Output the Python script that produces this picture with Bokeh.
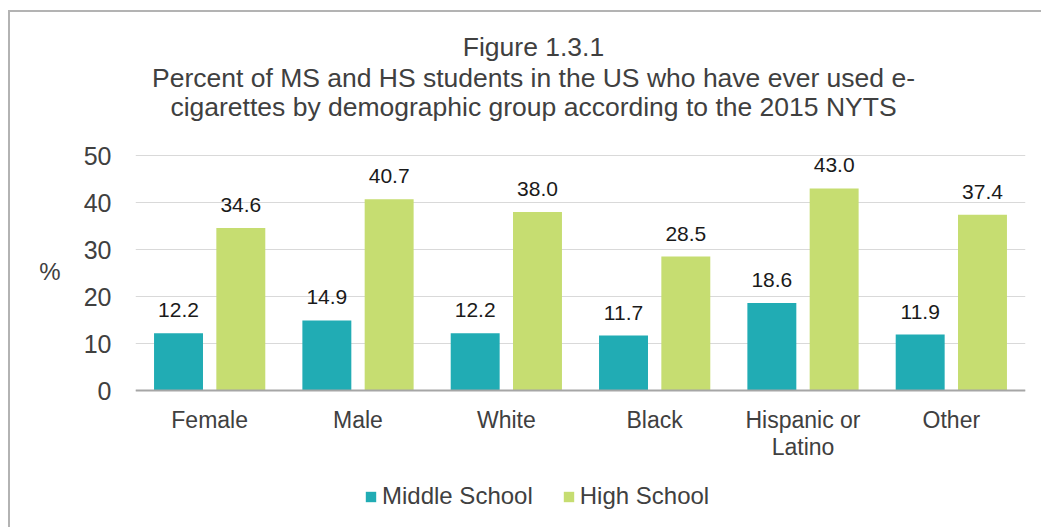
from bokeh.plotting import figure
from bokeh.models import (ColumnDataSource, FactorRange, LabelSet, Label, Legend, LegendItem,
                          FixedTicker, Span, Range1d)
from bokeh.core.properties import value
from bokeh.transform import dodge
from bokeh.embed import file_html
from bokeh.resources import INLINE

categories = ["Female", "Male", "White", "Black", "Hispanic or Latino", "Other"]
cat_line1 = ["Female", "Male", "White", "Black", "Hispanic or", "Other"]
cat_line2 = ["", "", "", "", "Latino", ""]
middle_school = [12.2, 14.9, 12.2, 11.7, 18.6, 11.9]
high_school = [34.6, 40.7, 38.0, 28.5, 43.0, 37.4]
series_names = ["Middle School", "High School"]
title_lines = [
    "Figure 1.3.1",
    "Percent of MS and HS students in the US who have ever used e-",
    "cigarettes by demographic group according to the 2015 NYTS",
]
y_ticks = [0, 10, 20, 30, 40, 50]

FONT = "Liberation Sans"
TXT = "#404040"
C_MS = "#21ACB4"
C_HS = "#C6DD71"

# layout geometry (pixels)
W, H = 1033, 517
FRAME_LEFT, FRAME_RIGHT = 125, 18
PX_PER_UNIT = 235 / 50.0
ZERO_FROM_TOP = 378

src = ColumnDataSource(dict(
    cat=categories,
    l1=cat_line1,
    l2=cat_line2,
    ms=middle_school,
    hs=high_school,
    ms_lbl=[f"{v:.1f}" for v in middle_school],
    hs_lbl=[f"{v:.1f}" for v in high_school],
    zero=[0] * len(categories),
))

p = figure(
    x_range=FactorRange(*categories),
    y_range=Range1d(-(H - ZERO_FROM_TOP) / PX_PER_UNIT, ZERO_FROM_TOP / PX_PER_UNIT),
    width=W, height=H, x_axis_location=None,
    output_backend="svg", toolbar_location=None,
    min_border_left=FRAME_LEFT, min_border_right=FRAME_RIGHT, min_border_top=0, min_border_bottom=0,
)
p.styles = {"margin-left": "8px", "margin-top": "10px",
            "border-left": "2px solid #b3b3b3", "border-top": "2px solid #b3b3b3"}
p.outline_line_color = None
p.background_fill_color = "white"
p.border_fill_color = "white"

# grid
p.xgrid.grid_line_color = None
p.ygrid.grid_line_color = "#d9d9d9"
p.ygrid.grid_line_width = 1

# baseline (category axis line)
p.add_layout(Span(location=0, dimension="width", line_color="#a6a6a6", line_width=2))

r_ms = p.vbar(x=dodge("cat", -0.21, range=p.x_range), top="ms", width=0.33, source=src,
              fill_color=C_MS, line_color=None)
r_hs = p.vbar(x=dodge("cat", 0.21, range=p.x_range), top="hs", width=0.33, source=src,
              fill_color=C_HS, line_color=None)

for col, lbl, off in (("ms", "ms_lbl", -0.21), ("hs", "hs_lbl", 0.21)):
    p.add_layout(LabelSet(x=dodge("cat", off, range=p.x_range), y=col, text=lbl, source=src,
                          text_align="center", text_baseline="alphabetic", y_offset=16,
                          text_font=value(FONT), text_font_size="21px", text_color="#1a1a1a"))

# category labels (two lines)
for col, yoff in (("l1", -37), ("l2", -64)):
    p.add_layout(LabelSet(x="cat", y="zero", text=col, source=src,
                          text_align="center", text_baseline="alphabetic", y_offset=yoff,
                          text_font=value(FONT), text_font_size="23px", text_color=TXT))

# y axis
p.yaxis.ticker = FixedTicker(ticks=y_ticks)
p.yaxis.axis_line_color = None
p.yaxis.major_tick_line_color = None
p.yaxis.major_tick_out = 0
p.yaxis.major_tick_in = 0
p.yaxis.minor_tick_line_color = None
p.yaxis.major_label_text_font = FONT
p.yaxis.major_label_text_font_size = "25px"
p.yaxis.major_label_text_color = TXT
p.yaxis.major_label_standoff = 24
p.yaxis.axis_label = "%"
p.yaxis.axis_label_orientation = "horizontal"
p.yaxis.axis_label_text_font = FONT
p.yaxis.axis_label_text_font_size = "24px"
p.yaxis.axis_label_text_font_style = "normal"
p.yaxis.axis_label_text_color = TXT
p.yaxis.axis_label_standoff = 20

# title lines (screen units, relative to the plot frame's bottom-left)
title_baselines = [483, 452, 423]
for t, yb in zip(title_lines, title_baselines):
    p.add_layout(Label(x=398, y=yb, x_units="screen", y_units="screen", text=t,
                       text_align="center", text_baseline="alphabetic",
                       text_font=FONT, text_font_size="26.5px", text_color=TXT))

legend = Legend(items=[LegendItem(label=series_names[0], renderers=[r_ms]),
                       LegendItem(label=series_names[1], renderers=[r_hs])],
                orientation="horizontal", location=(229, 19),
                padding=0, margin=0, spacing=29, label_standoff=5,
                glyph_width=13, glyph_height=13,
                border_line_color=None, background_fill_alpha=0,
                label_text_font=FONT, label_text_font_size="24px", label_text_color=TXT)
p.add_layout(legend, "center")

open("out.html", "w").write(file_html(p, INLINE))
